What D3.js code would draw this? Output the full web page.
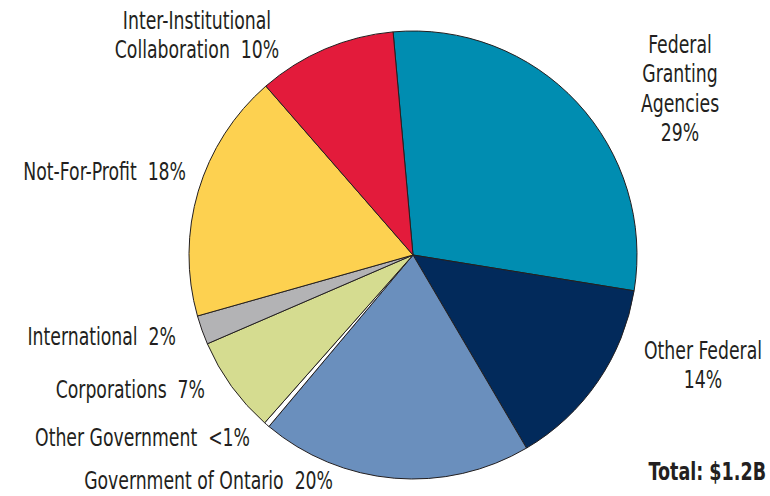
<!DOCTYPE html>
<html>
<head>
<meta charset="utf-8">
<script src="https://cdn.jsdelivr.net/npm/d3@7.9.0/dist/d3.min.js"></script>
<style>
  body { margin: 0; background: #fff; }
  svg text { font-family: "DejaVu Sans Condensed", "Liberation Sans Narrow", "Roboto", sans-serif; font-stretch: condensed; fill: #231f20; }
</style>
</head>
<body>
<svg id="chart" width="770" height="496"></svg>
<script>
// slice data, clockwise from the top
const categories = ['Federal Granting Agencies', 'Other Federal', 'Government of Ontario', 'Other Government',
  'Corporations', 'International', 'Not-For-Profit', 'Inter-Institutional Collaboration'];
const shares = [29, 14, 19.6, 0.4, 7, 2.1, 18, 10];
const sliceColors = ['#008db1', '#022a5b', '#6a8fbd', '#ffffff', '#d5dc90', '#b3b3b5', '#fdd150', '#e31b3b'];

// label text lines and placement
const labelLines = [
  ['Federal', 'Granting', 'Agencies', '29%'],
  ['Other Federal', '14%'],
  ['Government of Ontario  20%'],
  ['Other Government  <1%'],
  ['Corporations  7%'],
  ['International  2%'],
  ['Not-For-Profit  18%'],
  ['Inter-Institutional', 'Collaboration  10%']
];
const labelPos = [
  { x: 680, y: 53, anchor: 'middle' },
  { x: 703, y: 359, anchor: 'middle' },
  { x: 333, y: 489, anchor: 'end' },
  { x: 250, y: 446, anchor: 'end' },
  { x: 205, y: 398, anchor: 'end' },
  { x: 176, y: 345, anchor: 'end' },
  { x: 186, y: 180, anchor: 'end' },
  { x: 197, y: 29, anchor: 'middle' }
];
const totalLabel = 'Total: $1.2B';

const cx = 413, cy = 255, radius = 224;
const start = -5.1 * Math.PI / 180;
const squeeze = 0.8;

const svg = d3.select('#chart');
const g = svg.append('g').attr('transform', `translate(${cx},${cy})`);

const pie = d3.pie().sort(null).value(d => d).startAngle(start).endAngle(start + 2 * Math.PI);
const arc = d3.arc().innerRadius(0).outerRadius(radius);

g.selectAll('path')
  .data(pie(shares))
  .enter()
  .append('path')
  .attr('d', arc)
  .attr('fill', (d, i) => sliceColors[i])
  .attr('stroke', '#231f20')
  .attr('stroke-width', 1)
  .attr('stroke-linejoin', 'round');

labelLines.forEach((lines, i) => {
  const t = svg.append('g')
    .attr('transform', `translate(${labelPos[i].x},${labelPos[i].y}) scale(${squeeze},1)`)
    .append('text')
    .attr('text-anchor', labelPos[i].anchor)
    .style('font-size', '24px')
    .style('white-space', 'pre');
  lines.forEach((line, j) => {
    t.append('tspan')
      .attr('x', 0)
      .attr('dy', j === 0 ? 0 : 29.5)
      .text(line);
  });
});

svg.append('g')
  .attr('transform', 'translate(766,480) scale(0.78,1)')
  .append('text')
  .attr('text-anchor', 'end')
  .style('font-size', '25px')
  .style('font-weight', 'bold')
  .text(totalLabel);
</script>
</body>
</html>
